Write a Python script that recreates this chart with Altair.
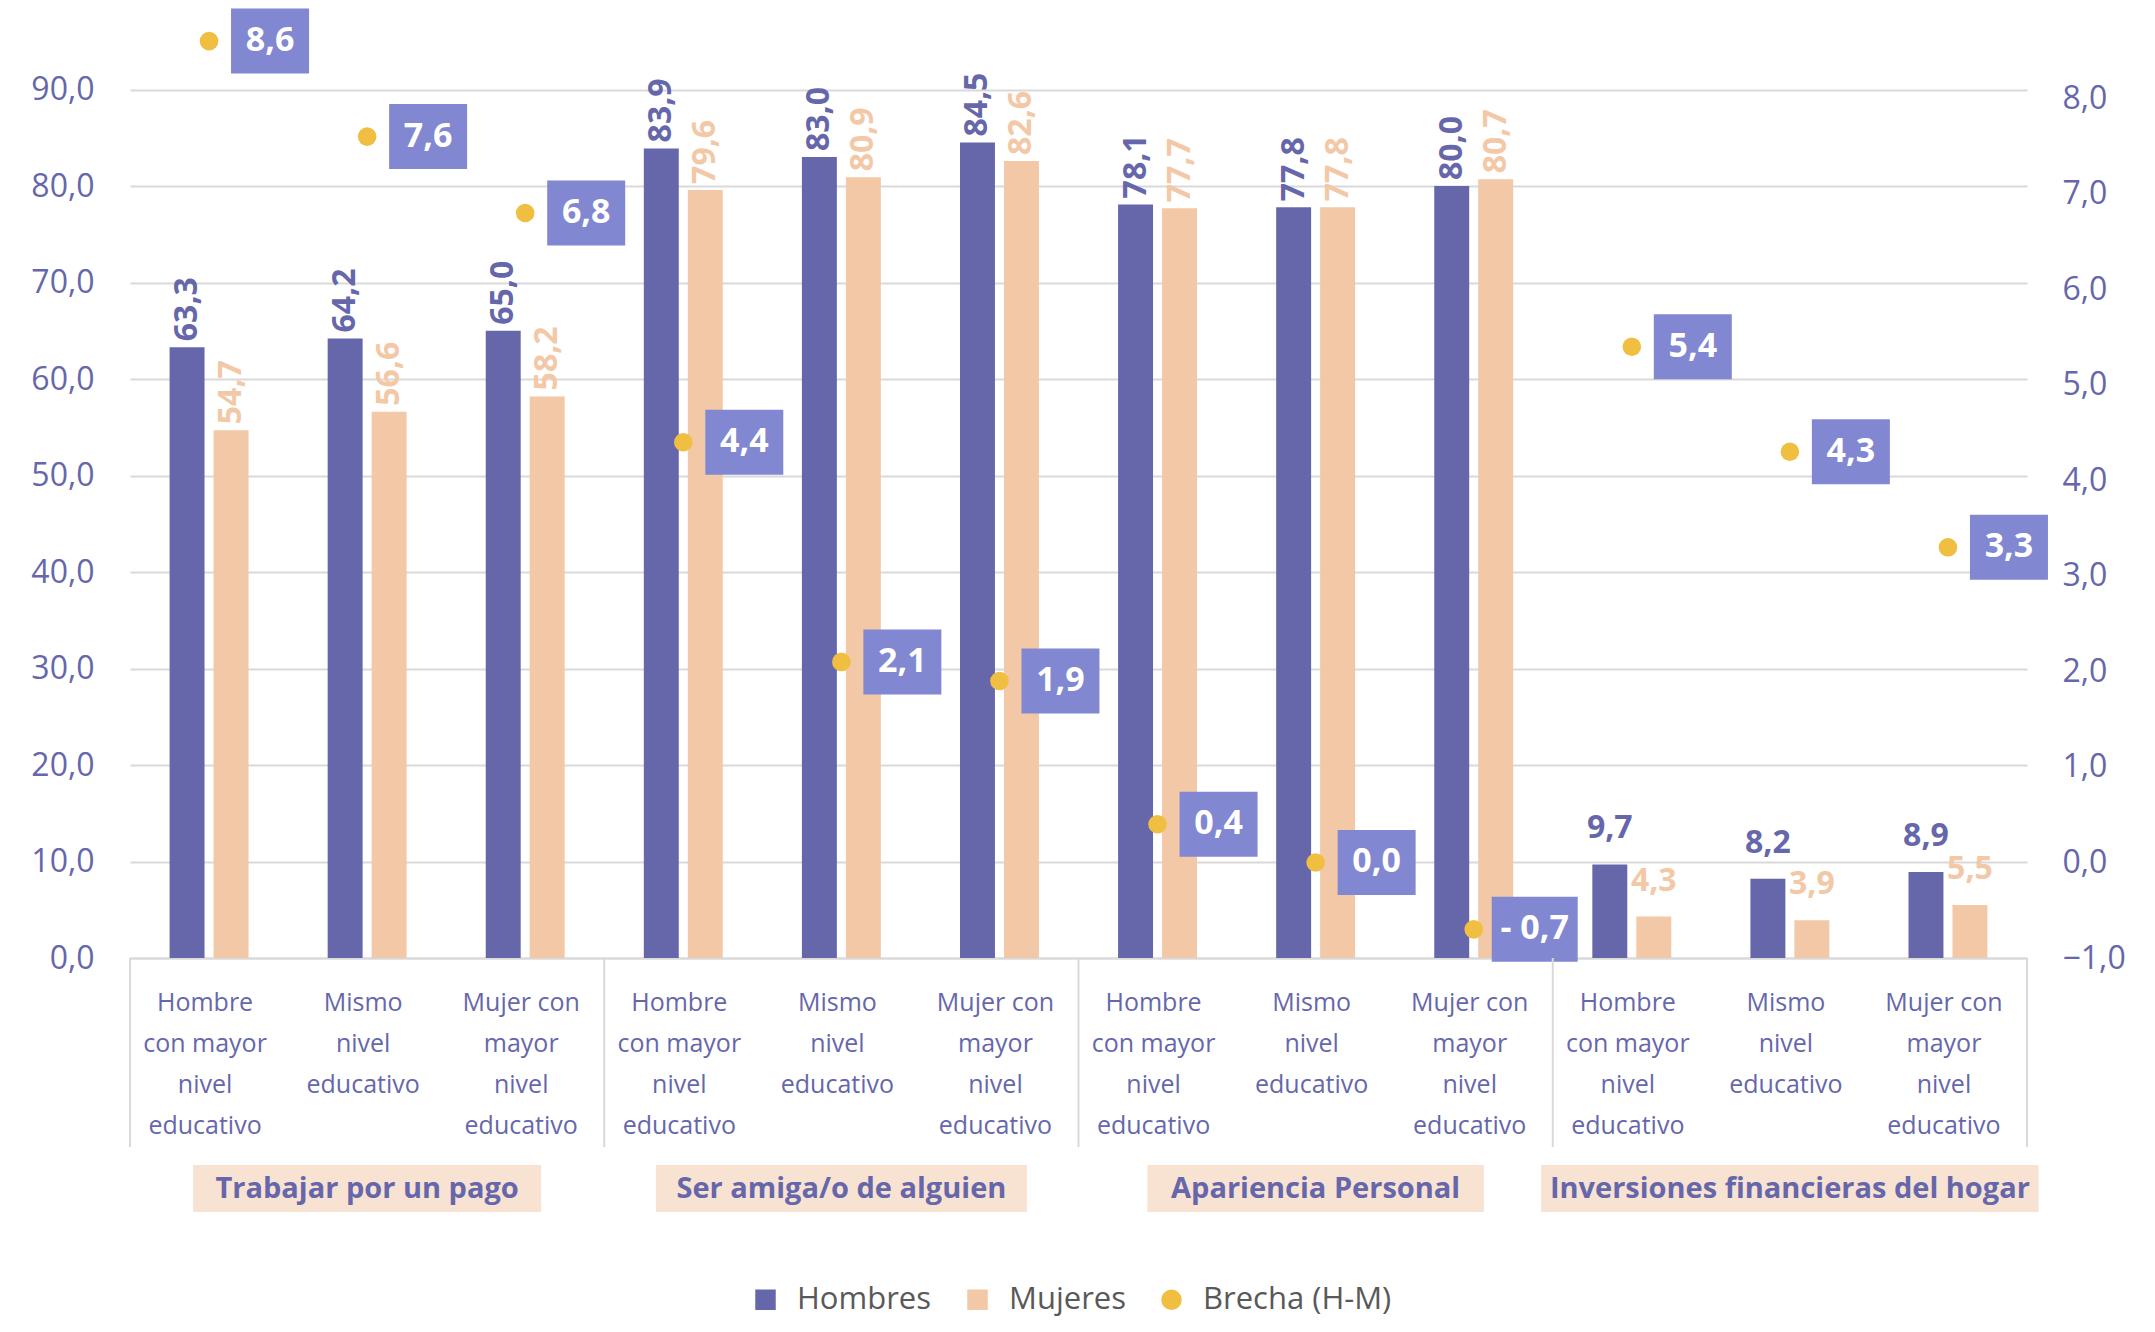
import altair as alt
import pandas as pd

# ---------------- data ----------------
grupos = ["Trabajar por un pago", "Ser amiga/o de alguien",
          "Apariencia Personal", "Inversiones financieras del hogar"]
categorias = ["Hombre\ncon mayor\nnivel\neducativo",
              "Mismo\nnivel\neducativo",
              "Mujer con\nmayor\nnivel\neducativo"]
series = ["Hombres", "Mujeres"]
serie_brecha = "Brecha (H-M)"
hombres = [63.3, 64.2, 65.0, 83.9, 83.0, 84.5, 78.1, 77.8, 80.0, 9.7, 8.2, 8.9]
mujeres = [54.7, 56.6, 58.2, 79.6, 80.9, 82.6, 77.7, 77.8, 80.7, 4.3, 3.9, 5.5]
brecha = [8.6, 7.6, 6.8, 4.4, 2.1, 1.9, 0.4, 0.0, -0.7, 5.4, 4.3, 3.3]
ticks_izq = [0, 10, 20, 30, 40, 50, 60, 70, 80, 90]
ticks_der = [-1, 0, 1, 2, 3, 4, 5, 6, 7, 8]

# ---------------- style ----------------
C_H = "#6667AB"
C_M = "#F2C8A6"
C_B = "#F0BF41"
C_BOX = "#8287D1"
C_GRP = "#F8E2D2"
C_GRID = "#D9D9D9"
C_TXT = "#6667AB"
FONT = "Open Sans"
W, H = 1897, 936


def fmt(v):
    s = f"{abs(v):.1f}".replace(".", ",")
    return ("- " + s) if v < 0 else s


keys = [f"{g}|{i}" for g in grupos for i in range(len(categorias))]

rows_bar, rows_dot, rows_cat = [], [], []
for k_i, key in enumerate(keys):
    for s, vals in zip(series, [hombres, mujeres]):
        v = vals[k_i]
        rows_bar.append({"key": key, "serie": s, "valor": v,
                         "etq": fmt(v), "grande": v >= 20})
    lab = fmt(brecha[k_i])
    hw = 39 if len(lab) <= 3 else 43
    rows_dot.append({"key": key, "brecha": brecha[k_i], "etq": lab,
                     "path": f"M{61-hw},-32.5H{61+hw}V32.5H{61-hw}Z"})
    rows_cat.append({"key": key, "etq": categorias[k_i % len(categorias)]})

df_bar = pd.DataFrame(rows_bar)
df_dot = pd.DataFrame(rows_dot)
df_cat = pd.DataFrame(rows_cat)

n = len(categorias)
df_sep = pd.DataFrame({"key": [keys[i * n] for i in range(len(grupos))]})
df_end = pd.DataFrame({"key": [keys[-1]]})
grp_rows = []
for gi, g in enumerate(grupos):
    hw = (11.5 * len(g) + 118) / 2
    grp_rows.append({"key": keys[gi * n + 1], "titulo": g,
                     "path": f"M{-hw},-23.5H{hw}V23.5H{-hw}Z"})
df_grp = pd.DataFrame(grp_rows)

x_scale = alt.Scale(domain=keys, paddingInner=0, paddingOuter=0)
xoff_scale = alt.Scale(domain=series, paddingInner=0.205, paddingOuter=0.9)
y_left = alt.Scale(domain=[0, 97], nice=False, zero=False)
y_right = alt.Scale(domain=[-1, 8.8], nice=False, zero=False)
color_scale = alt.Scale(domain=series + [serie_brecha], range=[C_H, C_M, C_B])

x_axis = alt.Axis(labels=False, ticks=False, title="", domain=True,
                  domainColor=C_GRID, domainWidth=2, grid=False)


def X(**kw):
    return alt.X("key:N", scale=x_scale, axis=x_axis, title="", **kw)


legend = alt.Legend(
    orient="none", legendX=620, legendY=1262, direction="horizontal",
    title="", labelFontSize=31, labelFont=FONT, labelColor="#595959",
    labelLimit=600,
    symbolSize=420, symbolStrokeWidth=0, columnPadding=30, labelOffset=16,
    symbolType={"expr": f"datum.label === '{serie_brecha}' ? 'circle' : 'square'"},
)

axis_left = alt.Axis(values=ticks_izq, title="", ticks=False, domain=False,
                     grid=True, gridColor=C_GRID, gridWidth=2,
                     labelFont=FONT, labelFontSize=32, labelColor=C_TXT,
                     labelPadding=36,
                     labelExpr="replace(format(datum.value, '.1f'), '.', ',')")
axis_right = alt.Axis(values=ticks_der, title="", ticks=False, domain=False,
                      grid=False, orient="right",
                      labelFont=FONT, labelFontSize=32, labelColor=C_TXT,
                      labelPadding=35,
                      labelExpr="replace(format(datum.value, '.1f'), '.', ',')")

label_color = alt.condition(f"datum.serie == '{series[0]}'", alt.value(C_H), alt.value(C_M))

base_bar = alt.Chart(df_bar)
bars = base_bar.mark_bar().encode(
    x=X(),
    xOffset=alt.XOffset("serie:N", scale=xoff_scale),
    y=alt.Y("valor:Q", scale=y_left, axis=axis_left),
    color=alt.Color("serie:N", scale=color_scale, legend=legend),
)
lab_rot = base_bar.transform_filter("datum.grande").mark_text(
    angle=270, align="left", baseline="middle", dx=6,
    font=FONT, fontSize=32, fontWeight="bold",
).encode(
    x=X(), xOffset=alt.XOffset("serie:N", scale=xoff_scale),
    y=alt.Y("valor:Q", scale=y_left, axis=axis_left),
    text="etq:N", color=label_color,
)
lab_hor = base_bar.transform_filter("!datum.grande").mark_text(
    align="center", baseline="alphabetic", dy=-26,
    font=FONT, fontSize=32, fontWeight="bold",
).encode(
    x=X(), xOffset=alt.XOffset("serie:N", scale=xoff_scale),
    y=alt.Y("valor:Q", scale=y_left, axis=axis_left),
    text="etq:N", color=label_color,
)
left_layer = alt.layer(bars, lab_rot, lab_hor)

base_dot = alt.Chart(df_dot)
boxes = base_dot.mark_point(filled=True, size=4, opacity=1, color=C_BOX,
                            strokeWidth=0).encode(
    x=X(), y=alt.Y("brecha:Q", scale=y_right, axis=axis_right),
    shape=alt.Shape("path:N", scale=None),
)
dots = base_dot.mark_point(filled=True, size=346, opacity=1, strokeWidth=0).encode(
    x=X(), y=alt.Y("brecha:Q", scale=y_right, axis=axis_right),
    color=alt.ColorDatum(serie_brecha),
)
dot_txt = base_dot.mark_text(align="center", baseline="middle", dx=61,
                             font=FONT, fontSize=34, fontWeight="bold",
                             color="white").encode(
    x=X(), y=alt.Y("brecha:Q", scale=y_right, axis=axis_right),
    text="etq:N",
)
right_layer = alt.layer(boxes, dots, dot_txt)

seps = alt.Chart(df_sep).mark_rule(color=C_GRID, strokeWidth=2).encode(
    x=X(bandPosition=0), y=alt.value(H), y2=alt.value(H + 189))
sep_end = alt.Chart(df_end).mark_rule(color=C_GRID, strokeWidth=2).encode(
    x=X(bandPosition=1), y=alt.value(H), y2=alt.value(H + 189))
cat_txt = alt.Chart(df_cat).mark_text(
    align="center", baseline="top", lineBreak="\n", lineHeight=41, dx=-4,
    font=FONT, fontSize=25, color=C_TXT,
).encode(x=X(), y=alt.value(H + 33), text="etq:N")
grp_box = alt.Chart(df_grp).mark_point(filled=True, size=4, opacity=1,
                                       color=C_GRP, strokeWidth=0).encode(
    x=X(), y=alt.value(H + 230.5), shape=alt.Shape("path:N", scale=None))
grp_txt = alt.Chart(df_grp).mark_text(
    align="center", baseline="middle", font=FONT, fontSize=29,
    fontWeight="bold", color=C_TXT,
).encode(x=X(), y=alt.value(H + 230.5), text="titulo:N")

chart = alt.layer(
    left_layer, right_layer, seps, sep_end, cat_txt, grp_box, grp_txt
).resolve_scale(y="independent").properties(
    width=W, height=H,
    autosize=alt.AutoSizeParams(type="none"),
    padding={"left": 122, "top": 14, "right": 120, "bottom": 366},
).configure_view(stroke="transparent")

chart.save("out.html", embed_options={"renderer": "svg", "actions": False})
